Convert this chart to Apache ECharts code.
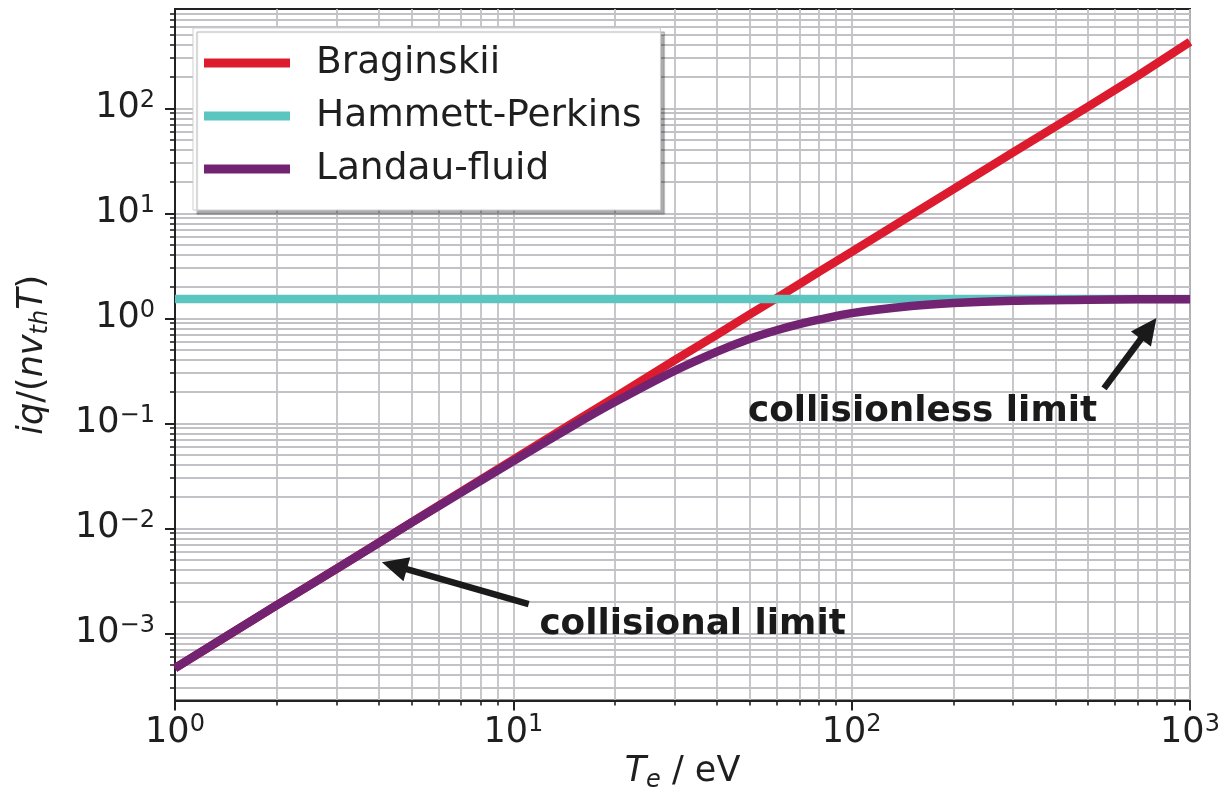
<!DOCTYPE html>
<html>
<head>
<meta charset="utf-8">
<script src="https://cdn.jsdelivr.net/npm/echarts@6/dist/echarts.min.js"></script>
<style>
  html, body { margin: 0; padding: 0; background: #ffffff; }
  #chart { width: 1223px; height: 801px; }
</style>
</head>
<body>
<div id="chart"></div>
<script>
// Electron temperature grid (eV)
const temperatureEV = [1, 2, 3, 5, 7, 10, 15, 20, 30, 40, 50, 60, 70, 80, 100, 150, 200, 300, 500, 700, 1000];

// Normalised heat flux iq/(n v_th T) for each closure
const braginskii     = [4.65e-4, 1.85e-3, 4.1e-3, 0.0114, 0.0222, 0.045, 0.101, 0.178, 0.40, 0.70, 1.09, 1.56, 2.12, 2.77, 4.3, 9.6, 17.0, 38, 104, 204, 430];
const hammettPerkins = [1.53, 1.53, 1.53, 1.53, 1.53, 1.53, 1.53, 1.53, 1.53, 1.53, 1.53, 1.53, 1.53, 1.53, 1.53, 1.53, 1.53, 1.53, 1.53, 1.53, 1.53];
const landauFluid    = [4.65e-4, 1.85e-3, 4.1e-3, 0.0113, 0.0219, 0.0437, 0.0948, 0.160, 0.317, 0.482, 0.64, 0.77, 0.88, 0.97, 1.12, 1.31, 1.40, 1.47, 1.50, 1.515, 1.52];

const seriesNames = ['Braginskii', 'Hammett-Perkins', 'Landau-fluid'];
const seriesColors = ['#dc1c2e', '#5bc5c0', '#722372'];

// Axis ranges and tick positions
const xRange = [1, 1000];
const yRange = [2.29e-4, 883];
const xMajorTicks = [1, 10, 100, 1000];
const yMajorTicks = [1e-3, 1e-2, 1e-1, 1, 10, 100];
const minorMultipliers = [2, 3, 4, 5, 6, 7, 8, 9];
const xDecades = [1, 10, 100];
const yDecades = [1e-4, 1e-3, 1e-2, 1e-1, 1, 10, 100];

// Annotations: arrow [tail, head] and text anchors (left edge, vertical centre)
const arrowCollisional = [[11.1, 1.9e-3], [4.45, 4.4e-3]];
const arrowCollisionless = [[557, 0.215], [755, 0.80]];
const labelCollisional = { text: 'collisional limit', at: [11.9, 1.2e-3] };
const labelCollisionless = { text: 'collisionless limit', at: [49.2, 0.128] };

function minorTicks(decades, range) {
  const out = [];
  decades.forEach(d => minorMultipliers.forEach(m => {
    const v = +(d * m).toPrecision(6);
    if (v > range[0] && v < range[1]) out.push(v);
  }));
  return out;
}
const xMinorTicks = minorTicks(xDecades, xRange);
const yMinorTicks = minorTicks(yDecades, yRange);

const FONT = 'DejaVu Sans';
const INK = '#1f1f1f';
const GRID_LINE = { color: '#c2c2c6', width: 1.8 };

function powerLabel(value) {
  const e = Math.round(Math.log10(value));
  const s = e < 0 ? '\u2212' + Math.abs(e) : String(e);
  return '{b|10}{s|' + s + '}';
}
const powerRich = {
  b: { fontSize: 35, lineHeight: 40, fontFamily: FONT, color: INK },
  s: { fontSize: 24, lineHeight: 24, fontFamily: FONT, color: INK, verticalAlign: 'top' }
};

function pairs(ys) { return temperatureEV.map((t, i) => [t, ys[i]]); }

const chart = echarts.init(document.getElementById('chart'), null, { renderer: 'canvas' });

const lineSeries = [braginskii, hammettPerkins, landauFluid].map((ys, i) => ({
  name: seriesNames[i],
  type: 'line',
  xAxisIndex: 0,
  yAxisIndex: 0,
  data: pairs(ys),
  showSymbol: false,
  smooth: i === 2 ? 0.3 : false,
  animation: false,
  lineStyle: { color: seriesColors[i], width: 8.5, cap: 'butt' },
  itemStyle: { color: seriesColors[i] },
  z: 3 + i
}));

// Annotation arrows and texts attached to an empty helper series
const annotationSeries = {
  name: 'annotations',
  type: 'line',
  xAxisIndex: 0,
  yAxisIndex: 0,
  data: [],
  animation: false,
  z: 8,
  markLine: {
    silent: true,
    animation: false,
    symbol: ['none', 'triangle'],
    symbolSize: [25, 26],
    lineStyle: { color: '#1a1a1a', width: 6.5, type: 'solid' },
    itemStyle: { color: '#1a1a1a' },
    label: { show: false },
    emphasis: { disabled: true },
    data: [
      [{ coord: arrowCollisional[0] }, { coord: arrowCollisional[1] }],
      [{ coord: arrowCollisionless[0] }, { coord: arrowCollisionless[1] }]
    ]
  },
  markPoint: {
    silent: true,
    animation: false,
    symbol: 'circle',
    symbolSize: 1,
    itemStyle: { color: 'rgba(0,0,0,0)' },
    label: {
      show: true,
      position: 'right',
      distance: 0,
      fontFamily: FONT,
      fontWeight: 'bold',
      fontSize: 35.8,
      color: '#1a1a1a',
      formatter: p => p.name
    },
    data: [
      { name: labelCollisional.text, coord: labelCollisional.at },
      { name: labelCollisionless.text, coord: labelCollisionless.at }
    ]
  }
};

const axisInk = { color: '#222', width: 2 };

const option = {
  backgroundColor: '#ffffff',
  animation: false,
  textStyle: { fontFamily: FONT },
  grid: {
    left: 175, right: 33, top: 9, bottom: 100.5,
    show: true, borderColor: '#222', borderWidth: 2, backgroundColor: '#ffffff',
    outerBoundsMode: 'none'
  },
  legend: {
    data: seriesNames,
    orient: 'vertical',
    left: 193,
    top: 28,
    selectedMode: false,
    icon: 'rect',
    itemWidth: 86,
    itemHeight: 9,
    itemGap: 15,
    padding: [16, 19, 22, 11],
    backgroundColor: '#ffffff',
    borderColor: '#cfcfcf',
    borderWidth: 1,
    borderRadius: 0,
    shadowColor: 'rgba(0,0,0,0.33)',
    shadowBlur: 1,
    shadowOffsetX: 4,
    shadowOffsetY: 4,
    textStyle: { fontFamily: FONT, fontSize: 37.5, lineHeight: 37, color: INK, padding: [0, 0, 0, 21] }
  },
  xAxis: [
    {
      type: 'log', logBase: 10, min: xRange[0], max: xRange[1], position: 'bottom',
      name: '{i|T}{sub|e}{n| / eV}',
      nameLocation: 'middle',
      nameGap: 46,
      nameTextStyle: {
        rich: {
          i: { fontSize: 35, fontStyle: 'italic', fontFamily: FONT, color: INK, lineHeight: 40 },
          sub: { fontSize: 24, fontStyle: 'italic', fontFamily: FONT, color: INK, verticalAlign: 'bottom', lineHeight: 24 },
          n: { fontSize: 35, fontFamily: FONT, color: INK, lineHeight: 40 }
        }
      },
      axisLine: { show: true, lineStyle: axisInk },
      axisTick: { show: true, inside: false, length: 10, lineStyle: axisInk, customValues: xMajorTicks },
      axisLabel: { show: true, customValues: xMajorTicks, formatter: powerLabel, rich: powerRich, margin: 12, showMinLabel: true, showMaxLabel: true },
      splitLine: { show: true, lineStyle: GRID_LINE },
      minorTick: { show: false },
      minorSplitLine: { show: false }
    },
    {
      type: 'log', logBase: 10, min: xRange[0], max: xRange[1], position: 'bottom', offset: 0,
      axisLine: { show: false },
      axisTick: { show: true, inside: false, length: 5, lineStyle: { color: '#222', width: 1.6 }, customValues: xMinorTicks },
      axisLabel: { show: false },
      splitLine: { show: true, lineStyle: GRID_LINE }
    }
  ],
  yAxis: [
    {
      type: 'log', logBase: 10, min: yRange[0], max: yRange[1], position: 'left',
      name: '{i|iq}{n|/(}{i|nv}{sub|th}{i|T}{n|)}',
      nameLocation: 'middle',
      nameRotate: 90,
      nameGap: 122,
      nameTextStyle: {
        rich: {
          i: { fontSize: 35, fontStyle: 'italic', fontFamily: FONT, color: INK, lineHeight: 40 },
          n: { fontSize: 35, fontFamily: FONT, color: INK, lineHeight: 40 },
          sub: { fontSize: 24, fontStyle: 'italic', fontFamily: FONT, color: INK, verticalAlign: 'bottom', lineHeight: 24 }
        }
      },
      axisLine: { show: true, lineStyle: axisInk },
      axisTick: { show: true, inside: false, length: 10, lineStyle: axisInk, customValues: yMajorTicks },
      axisLabel: { show: true, customValues: yMajorTicks, formatter: powerLabel, rich: powerRich, margin: 20 },
      splitLine: { show: true, lineStyle: GRID_LINE },
      minorTick: { show: false },
      minorSplitLine: { show: false }
    },
    {
      type: 'log', logBase: 10, min: yRange[0], max: yRange[1], position: 'left', offset: 0,
      axisLine: { show: false },
      axisTick: { show: true, inside: false, length: 5, lineStyle: { color: '#222', width: 1.6 }, customValues: yMinorTicks },
      axisLabel: { show: false },
      splitLine: { show: true, lineStyle: GRID_LINE }
    }
  ],
  series: lineSeries.concat([annotationSeries])
};

chart.setOption(option);
</script>
</body>
</html>
